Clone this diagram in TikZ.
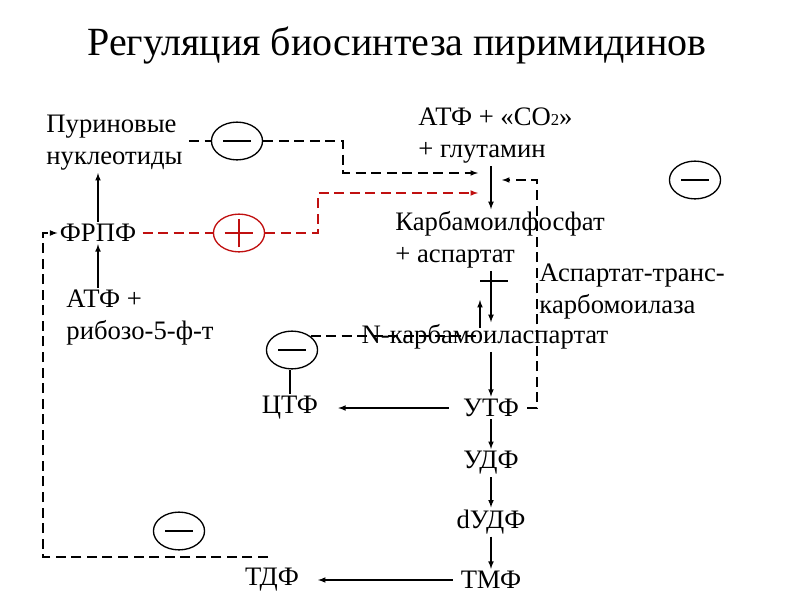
\documentclass[tikz,border=0pt]{standalone}
\usepackage{fontspec}
\setmainfont{Liberation Serif}
\usetikzlibrary{shapes.geometric}
\definecolor{actred}{RGB}{192,16,16}
\tikzset{
  txt/.style={font=\fontsize{24}{28.8}\selectfont, inner sep=2pt},
  arr/.style={-latex, line width=1.3pt},
  dsh/.style={dash pattern=on 9pt off 5pt, line width=1.3pt},
  inh/.style={ellipse, draw, line width=1.2pt, minimum width=46pt, minimum height=34pt, inner sep=0pt},
}
\begin{document}
\begin{tikzpicture}[x=0.9pt,y=-0.9pt]
\useasboundingbox (0,0) rectangle (800,600);
\node[font=\fontsize{36}{40}\selectfont] (title) at (397,45) {Регуляция биосинтеза пиримидинов};
\node[txt,anchor=west,align=left] (pur) at (44,143) {Пуриновые\\нуклеотиды};
\node[txt] (frpf) at (98,233) {ФРПФ};
\node[txt,anchor=west,align=left] (atfr) at (64,318) {АТФ +\\рибозо-5-ф-т};
\node[txt,anchor=west,align=left] (atfco) at (416,136) {АТФ + «СО{\fontsize{15}{15}\selectfont 2}»\\+ глутамин};
\node[txt,anchor=west,align=left] (karb) at (393,240) {Карбамоилфосфат\\+ аспартат};
\node[txt,anchor=west,align=left] (atk) at (537,292) {Аспартат-транс-\\карбомоилаза};
\node[txt] (ncarb) at (485,337) {N-карбамоиласпартат};
\node[txt] (utf) at (491,408) {УТФ};
\node[txt] (ctf) at (290,408) {ЦТФ};
\node[txt] (udf) at (491,463) {УДФ};
\node[txt] (dudf) at (491,522) {dУДФ};
\node[txt] (tmf) at (491,580) {ТМФ};
\node[txt] (tdf) at (272,580) {ТДФ};
% regulators
\node[inh] (inhA) at (237,141) {\rule{25pt}{1.2pt}};
\node[inh,draw=actred] (act) at (239,233) {};
\node[inh] (inhB) at (695,180) {\rule{25pt}{1.2pt}};
\node[inh] (inhC) at (292,350) {\rule{25pt}{1.2pt}};
\node[inh] (inhD) at (179,531) {\rule{25pt}{1.2pt}};
\draw[actred,line width=1.2pt] ([xshift=-13pt]act.center) -- ([xshift=13pt]act.center)
  ([yshift=-13pt]act.center) -- ([yshift=13pt]act.center);
\coordinate (cpsA) at (478,173);
\coordinate (cpsB) at (478,193);
\coordinate (fb) at (502,180);
\coordinate (rev) at (480,300);
\coordinate (tdfin) at (268,557);
% main pathway
\draw[arr] (atfr.north -| frpf) -- (frpf.south);
\draw[arr] (frpf.north) -- (pur.south -| frpf);
\draw[arr] (atfco.south -| utf) -- (karb.north -| utf);
\draw[arr] (karb.south -| utf) -- (ncarb.north -| utf);
\draw[line width=1.3pt] (480,281) -- (508,281);
\draw[arr] (ncarb.north -| rev) ++(0,6) -- (rev);
\draw[arr] (ncarb.south -| utf) -- (utf.north);
\draw[arr,shorten <=11pt,shorten >=16pt] (utf.west) -- (ctf.east);
\draw[arr] (utf.south) -- (udf.north);
\draw[arr] (udf.south) -- (dudf.north);
\draw[arr] (dudf.south) -- (tmf.north);
\draw[arr,shorten <=5pt,shorten >=15pt] (tmf.west) -- (tdf.east);
% feedback
\draw[dsh] (pur.east |- inhA) ++(4,0) -- (inhA.west);
\draw[dsh,-latex] (inhA.east) -- (343,141) |- (cpsA);
\draw[dsh,actred] (frpf.east) ++(4,0) -- (act.west);
\draw[dsh,actred,-latex] (act.east) -- (318,233) |- (cpsB);
\draw[dsh,-latex] (utf.east) ++(6,0) -| (537,180) -- (fb);
\draw[line width=1.3pt] (ctf.north) -- (ctf.north |- inhC.south);
\draw[dsh] (inhC.north east) -- (rev |- inhC.north east);
\draw[dsh,-latex] (tdfin) -- (43,557) |- (frpf.west);
\end{tikzpicture}
\end{document}
